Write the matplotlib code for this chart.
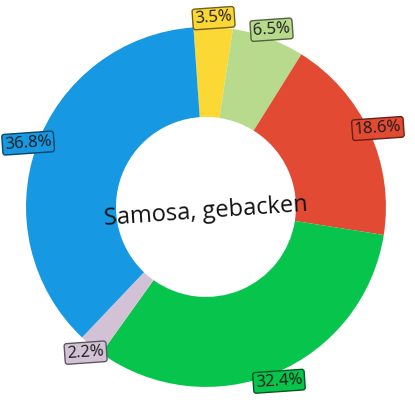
import numpy as np
import matplotlib.pyplot as plt
import matplotlib.colors as mcolors

# slices, clockwise from the top
labels = ['3.5%', '6.5%', '18.6%', '32.4%', '2.2%', '36.8%']
values = [3.5, 6.5, 18.6, 32.4, 2.2, 36.8]
colors = ['#fcd835', '#b8da8c', '#e24a33', '#07c44c', '#d3c2d6', '#1699e2']
center_title = 'Samosa, gebacken'

plt.rcParams['font.family'] = ['Open Sans', 'DejaVu Sans']

fig = plt.figure(figsize=(4.15, 4.15), dpi=100)
ax = fig.add_axes([0, 0, 1, 1])

start = 94
wedges, _ = ax.pie(values, colors=colors, startangle=start, counterclock=False,
                   radius=1.0, wedgeprops=dict(width=0.5, linewidth=0))

total = sum(values)
cum = 0.0
for lab, val, col in zip(labels, values, colors):
    mid = start - 360.0 * (cum + val / 2.0) / total
    cum += val
    r = 1.05
    x = r * np.cos(np.radians(mid))
    y = r * np.sin(np.radians(mid))
    edge = np.array(mcolors.to_rgb(col)) * 0.45
    ax.text(x, y, lab, ha='center', va='center', fontsize=12, rotation=4,
            color='#1a1a1a',
            bbox=dict(boxstyle='round,pad=0.14,rounding_size=0.15',
                      facecolor=col, edgecolor=edge, linewidth=1))

ax.text(0, -0.03, center_title, ha='center', va='center', fontsize=17,
        rotation=4, color='#111111')

ax.set_xlim(-1.144, 1.161)
ax.set_ylim(-1.156, 1.15)
ax.set_aspect('equal')
ax.axis('off')

plt.savefig('out.png', dpi=100)
